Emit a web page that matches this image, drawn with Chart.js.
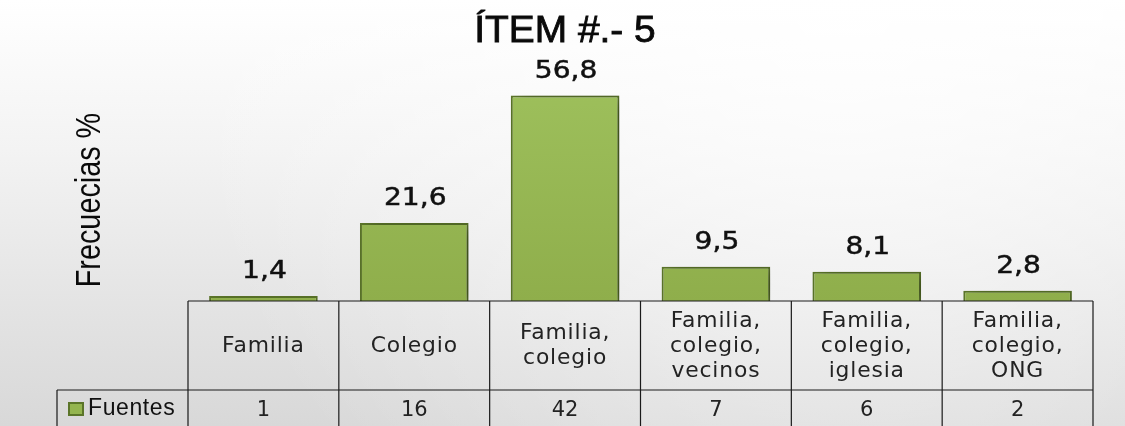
<!DOCTYPE html>
<html>
<head>
<meta charset="utf-8">
<script src="https://cdn.jsdelivr.net/npm/chart.js@4.4.1/dist/chart.umd.min.js"></script>
<style>
  html, body { margin: 0; padding: 0; background: #fff; }
  #wrap { width: 1125px; height: 426px; position: relative; }
</style>
</head>
<body>
<div id="wrap"><canvas id="chart" width="1125" height="426"></canvas></div>
<script>
// Item 5 data
const categories = [
    ['Familia'],
    ['Colegio'],
    ['Familia,', 'colegio'],
    ['Familia,', 'colegio,', 'vecinos'],
    ['Familia,', 'colegio,', 'iglesia'],
    ['Familia,', 'colegio,', 'ONG']
];
const percentages = [1.4, 21.6, 56.8, 9.5, 8.1, 2.8];
const counts = [1, 16, 42, 7, 6, 2];
const seriesName = 'Fuentes';
const chartTitle = 'ÍTEM #.- 5';
const axisTitle = 'Frecuecias %';

const barFill = '#94b54f';
const barEdge = '#5b7529';

function formatPct(v) {
    return v.toFixed(1).replace('.', ',');
}

// Background + title + axis label
const backgroundPlugin = {
    id: 'background',
    beforeDraw(chart) {
        const ctx = chart.ctx;
        const w = chart.width, h = chart.height;
        ctx.save();
        const g = ctx.createLinearGradient(0, 0, 0, h);
        g.addColorStop(0, '#ffffff');
        g.addColorStop(0.35, '#f3f3f3');
        g.addColorStop(1, '#d8d8d8');
        ctx.fillStyle = g;
        ctx.fillRect(0, 0, w, h);
        const r = ctx.createRadialGradient(w * 0.75, 0, 10, w * 0.75, 0, w * 0.6);
        r.addColorStop(0, 'rgba(255,255,255,0.8)');
        r.addColorStop(1, 'rgba(255,255,255,0)');
        ctx.fillStyle = r;
        ctx.fillRect(0, 0, w, h);

        ctx.fillStyle = '#0a0a0a';
        ctx.strokeStyle = '#0a0a0a';
        ctx.textAlign = 'center';
        ctx.textBaseline = 'middle';
        ctx.save();
        ctx.translate(565, 32);
        ctx.scale(1.08, 1);
        ctx.font = '36px "Liberation Sans", Arial, sans-serif';
        ctx.lineWidth = 0.8;
        ctx.fillText(chartTitle, 0, 0);
        ctx.strokeText(chartTitle, 0, 0);
        ctx.restore();

        ctx.translate(90, 200);
        ctx.rotate(-Math.PI / 2);
        ctx.scale(0.9, 1.09);
        ctx.font = '32px "Liberation Sans", Arial, sans-serif';
        ctx.fillText(axisTitle, 0, 0);
        ctx.restore();
    }
};

// Bar shadow
const shadowPlugin = {
    id: 'barShadow',
    beforeDatasetDraw(chart) {
        const ctx = chart.ctx;
        ctx.save();
        ctx.shadowColor = 'rgba(0,0,0,0.35)';
        ctx.shadowBlur = 14;
        ctx.shadowOffsetX = 8;
        ctx.shadowOffsetY = 2;
    },
    afterDatasetDraw(chart) {
        chart.ctx.restore();
    }
};

// Value labels and data table
const tablePlugin = {
    id: 'dataTable',
    afterDatasetsDraw(chart) {
        const ctx = chart.ctx;
        const xs = chart.scales.x;
        const area = chart.chartArea;
        const meta = chart.getDatasetMeta(0);
        const n = categories.length;
        const colW = (area.right - area.left) / n;
        const top = area.bottom;
        const headBottom = top + 89;
        const rowBottom = headBottom + 50;
        const legendLeft = 57;

        ctx.save();
        // percentages above bars (slightly widened like the original)
        ctx.fillStyle = '#111';
        ctx.strokeStyle = '#111';
        ctx.lineWidth = 0.5;
        ctx.textAlign = 'center';
        ctx.textBaseline = 'middle';
        ctx.font = '24px "DejaVu Sans", Verdana, sans-serif';
        meta.data.forEach((bar, i) => {
            ctx.save();
            ctx.translate(bar.x + 1, bar.y - 24);
            ctx.scale(1.17, 1);
            ctx.fillText(formatPct(percentages[i]), 0, 0);
            ctx.strokeText(formatPct(percentages[i]), 0, 0);
            ctx.restore();
        });

        // grid lines
        ctx.strokeStyle = '#1a1a1a';
        ctx.lineWidth = 1.2;
        ctx.beginPath();
        ctx.moveTo(area.left, top);
        ctx.lineTo(area.right, top);
        ctx.moveTo(legendLeft, headBottom);
        ctx.lineTo(area.right, headBottom);
        ctx.moveTo(legendLeft, headBottom);
        ctx.lineTo(legendLeft, rowBottom);
        for (let i = 0; i <= n; i++) {
            const x = area.left + i * colW;
            ctx.moveTo(x, top);
            ctx.lineTo(x, rowBottom);
        }
        ctx.stroke();

        // category labels
        ctx.fillStyle = '#222';
        ctx.font = '21px "DejaVu Sans", Verdana, sans-serif';
        ctx.letterSpacing = '0.8px';
        const lineH = 25;
        categories.forEach((lines, i) => {
            const cx = xs.getPixelForValue(i);
            const cy = (top + headBottom) / 2 + 1;
            lines.forEach((t, j) => {
                ctx.save();
                ctx.translate(cx, cy + (j - (lines.length - 1) / 2) * lineH);
                ctx.scale(1.04, 1);
                ctx.fillText(t, 0, 0);
                ctx.restore();
            });
        });
        ctx.letterSpacing = '0px';

        // counts row
        ctx.font = '21px "DejaVu Sans", Verdana, sans-serif';
        counts.forEach((c, i) => {
            ctx.fillText(String(c), xs.getPixelForValue(i), headBottom + 21);
        });

        // legend key
        ctx.fillStyle = barFill;
        ctx.strokeStyle = barEdge;
        ctx.lineWidth = 2;
        ctx.fillRect(69, headBottom + 13, 14, 12);
        ctx.strokeRect(69, headBottom + 13, 14, 12);
        ctx.fillStyle = '#111';
        ctx.textAlign = 'left';
        ctx.font = '23px "Liberation Sans", Arial, sans-serif';
        ctx.letterSpacing = '0.6px';
        ctx.fillText(seriesName, 88, headBottom + 19);
        ctx.restore();
    }
};

const ctx = document.getElementById('chart').getContext('2d');
const barGrad = ctx.createLinearGradient(0, 90, 0, 301);
barGrad.addColorStop(0, '#9dbf5b');
barGrad.addColorStop(1, '#8fae4b');

new Chart(ctx, {
    type: 'bar',
    data: {
        labels: categories.map(c => c.join(' ')),
        datasets: [{
            label: seriesName,
            data: percentages,
            backgroundColor: barGrad,
            borderColor: barEdge,
            borderWidth: 2,
            barPercentage: 0.72,
            categoryPercentage: 1.0
        }]
    },
    options: {
        responsive: false,
        animation: false,
        layout: {
            padding: { left: 188, right: 32, top: 84, bottom: 125 }
        },
        plugins: {
            legend: { display: false },
            title: { display: false },
            tooltip: { enabled: false }
        },
        scales: {
            x: { display: false },
            y: { display: false, min: 0, max: 60 }
        }
    },
    plugins: [backgroundPlugin, shadowPlugin, tablePlugin]
});
</script>
</body>
</html>
